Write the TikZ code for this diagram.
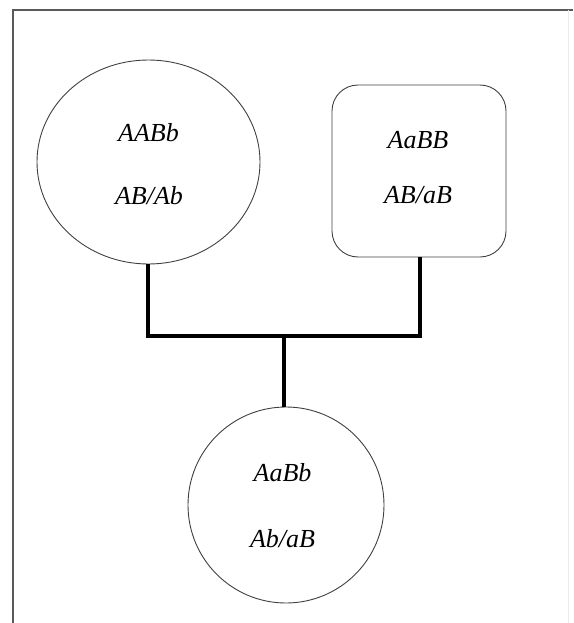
\documentclass[tikz,border=0pt]{standalone}
\usepackage{fontspec}
\setmainfont{Liberation Serif}
\usetikzlibrary{shapes.geometric}
\begin{document}
\begin{tikzpicture}[x=1pt,y=-1pt,
  shapeline/.style={draw=black!75, line width=0.9pt, inner sep=0pt},
  genotype/.style={anchor=base, inner sep=0pt, font=\fontsize{26}{30}\selectfont\itshape},
  link/.style={line width=3.2pt, black}]
\useasboundingbox (0,0) rectangle (573,623);
% frame
\draw[black!65, line width=1.6pt] (13,623) -- (13,10) -- (573,10);
\draw[black!8, line width=1pt] (568,10) -- (568,623);
% shapes
\node[shapeline, ellipse, minimum width=223pt, minimum height=204pt] (p1) at (148.5,162) {};
\node[shapeline, rectangle, rounded corners=26pt, minimum width=174pt, minimum height=172pt] (p2) at (419,171) {};
\node[shapeline, circle, minimum size=196pt] (c1) at (286,505) {};
% texts
\node[genotype] (t1a) at (148.5,141) {AABb};
\node[genotype] (t1b) at (149,204) {AB/Ab};
\node[genotype] (t2a) at (418,148) {AaBB};
\node[genotype] (t2b) at (418,203) {AB/aB};
\node[genotype] (t3a) at (282.5,481) {AaBb};
\node[genotype] (t3b) at (282.5,547) {Ab/aB};
% connectors
\coordinate (j1) at (148,336);
\coordinate (j2) at (420,336);
\coordinate (jm) at (284,336);
\draw[link] (p1.south -| j1) -- (j1) -- (j2) -- (p2.south -| j2);
\draw[link] (jm) -- (jm |- c1.north);
\end{tikzpicture}
\end{document}
